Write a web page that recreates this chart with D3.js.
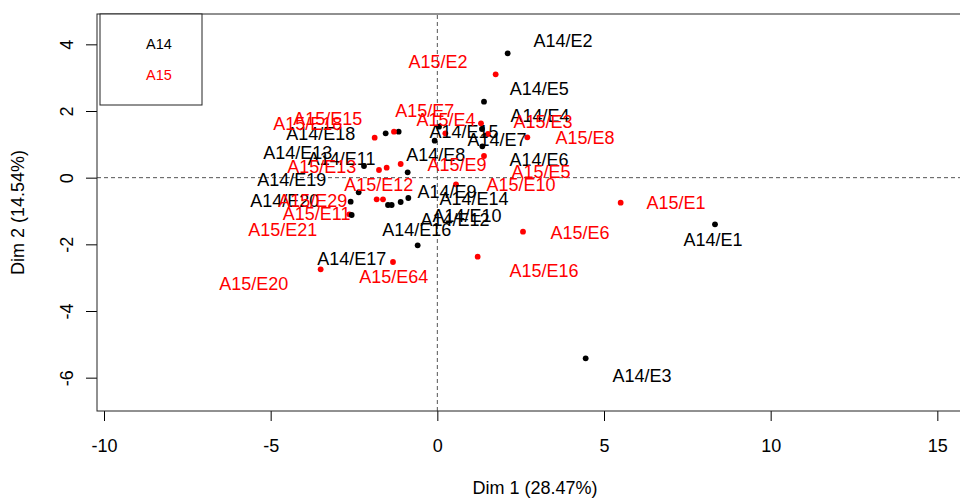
<!DOCTYPE html>
<html>
<head>
<meta charset="utf-8">
<script src="https://cdn.jsdelivr.net/npm/d3@7"></script>
<style>
  body { margin: 0; background: #fff; }
  svg { display: block; font-family: "Liberation Sans", Arial, sans-serif; }
</style>
</head>
<body>
<svg id="chart" width="960" height="498"></svg>
<script>
// individuals of group A14
var a14Names = ['A14/E1','A14/E2','A14/E3','A14/E4','A14/E5','A14/E6','A14/E7','A14/E8','A14/E9','A14/E10',
                'A14/E11','A14/E12','A14/E13','A14/E14','A14/E15','A14/E16','A14/E17','A14/E18','A14/E19','A14/E20']
var a14Dim1 = [8.33, 2.11, 4.45, 1.34, 1.40, 1.35, 0.05, -0.89, -0.87, -1.37,
               -2.20, -1.48, -1.16, -1.10, -0.08, -0.59, -2.57, -1.55, -2.36, -2.60]
var a14Dim2 = [-1.40, 3.73, -5.42, 1.46, 2.28, 0.94, 1.53, 0.16, -0.61, -0.82,
               0.35, -0.82, 1.38, -0.73, 1.11, -2.03, -1.12, 1.33, -0.44, -0.72]
// where the repelled labels ended up (same units as the dims)
var a14LabX = [8.27, 3.77, 6.14, 3.08, 3.06, 3.05, 1.79, -0.05, 0.29, 0.89,
               -2.87, 0.53, -4.19, 1.10, 0.80, -0.62, -2.57, -3.50, -4.37, -4.58]
var a14LabY = [-1.87, 4.10, -5.95, 1.85, 2.66, 0.53, 1.13, 0.68, -0.43, -1.15,
               0.56, -1.27, 0.74, -0.64, 1.37, -1.57, -2.44, 1.31, -0.07, -0.70]

// individuals of group A15
var a15Names = ['A15/E1','A15/E2','A15/E3','A15/E4','A15/E5','A15/E6','A15/E7','A15/E8','A15/E9','A15/E10',
                'A15/E11','A15/E12','A15/E13','A15/E15','A15/E16','A15/E18','A15/E20','A15/E21','A15/E29','A15/E64']
var a15Dim1 = [5.50, 1.75, 1.52, 1.31, 1.40, 2.57, 0.24, 2.70, -1.10, 0.56,
               -2.64, -1.52, -1.75, -1.30, 1.21, -1.88, -3.50, -1.63, -1.82, -1.33]
var a15Dim2 = [-0.75, 3.10, 1.31, 1.63, 0.65, -1.62, 1.33, 1.21, 0.41, -0.20,
               -1.10, 0.30, 0.23, 1.38, -2.37, 1.20, -2.75, -0.65, -0.65, -2.53]
var a15LabX = [7.16, 0.02, 3.17, 0.26, 3.11, 4.28, -0.38, 4.43, 0.59, 2.51,
               -3.62, -1.76, -3.47, -3.29, 3.20, -3.89, -5.51, -4.64, -3.74, -1.31]
var a15LabY = [-0.76, 3.47, 1.67, 1.73, 0.17, -1.66, 2.00, 1.19, 0.38, -0.22,
               -1.09, -0.22, 0.32, 1.76, -2.80, 1.63, -3.17, -1.57, -0.70, -2.98]

var xTicks = [-10, -5, 0, 5, 10, 15]
var yTicks = [-6, -4, -2, 0, 2, 4]
var groups = ['A14', 'A15']
var groupColors = ['#000000', '#ff0000']

var svg = d3.select('#chart')

var x = d3.scaleLinear().domain([-10.21, 16.07]).range([97, 973])
var y = d3.scaleLinear().domain([-7.0, 4.91]).range([411, 14])

// R prints a plain hyphen for negatives
var plain = function (v) { return String(v) }

function rows(names, d1, d2, lx, ly, g) {
  return names.map(function (n, i) {
    return { name: n, d1: d1[i], d2: d2[i], lx: lx[i], ly: ly[i], group: g }
  })
}
var a14 = rows(a14Names, a14Dim1, a14Dim2, a14LabX, a14LabY, 0)
var a15 = rows(a15Names, a15Dim1, a15Dim2, a15LabX, a15LabY, 1)

// dashed axes through the origin
svg.append('line')
   .attr('x1', x.range()[0]).attr('x2', x.range()[1])
   .attr('y1', y(0)).attr('y2', y(0))
   .attr('stroke', '#555').attr('stroke-dasharray', '4,3')
svg.append('line')
   .attr('x1', x(0)).attr('x2', x(0))
   .attr('y1', y.range()[0]).attr('y2', y.range()[1])
   .attr('stroke', '#555').attr('stroke-dasharray', '4,3')

var xAxis = svg.append('g')
  .attr('transform', 'translate(0,' + y.range()[0] + ')')
  .call(d3.axisBottom(x).tickValues(xTicks).tickSize(10).tickFormat(plain))
xAxis.select('.domain').remove()
xAxis.selectAll('text').attr('y', 41).attr('dy', 0)
     .attr('font-size', 18).attr('font-family', null)

var yAxis = svg.append('g')
  .attr('transform', 'translate(' + x.range()[0] + ',0)')
  .call(d3.axisLeft(y).tickValues(yTicks).tickSize(11).tickFormat(plain))
yAxis.select('.domain').remove()
yAxis.selectAll('text')
     .attr('x', null).attr('dy', '0.35em')
     .attr('transform', 'translate(-30,0) rotate(-90)')
     .attr('text-anchor', 'middle')
     .attr('font-size', 18).attr('font-family', null)

// frame
svg.append('rect')
   .attr('x', x.range()[0]).attr('y', y.range()[1])
   .attr('width', x.range()[1] - x.range()[0])
   .attr('height', y.range()[0] - y.range()[1])
   .attr('fill', 'none').attr('stroke', '#222')

svg.append('text')
   .attr('x', (x.range()[0] + x.range()[1]) / 2).attr('y', 494)
   .attr('text-anchor', 'middle').attr('font-size', 18)
   .text('Dim 1 (28.47%)')
svg.append('text')
   .attr('transform', 'translate(18,' + (y.range()[0] + y.range()[1]) / 2 + ') rotate(-90)')
   .attr('dy', '0.35em')
   .attr('text-anchor', 'middle').attr('font-size', 18)
   .text('Dim 2 (14.54%)')

// points, then labels
var all = a15.filter(function (d) { return d.name === 'A15/E11' })
         .concat(a14, a15.filter(function (d) { return d.name !== 'A15/E11' }))

svg.append('g').selectAll('circle')
   .data(all).enter().append('circle')
   .attr('cx', function (d) { return x(d.d1) })
   .attr('cy', function (d) { return y(d.d2) })
   .attr('r', 2.9)
   .attr('fill', function (d) { return groupColors[d.group] })

svg.append('g').selectAll('text')
   .data(a14.concat(a15)).enter().append('text')
   .attr('x', function (d) { return x(d.lx) })
   .attr('y', function (d) { return y(d.ly) })
   .attr('dy', '0.36em')
   .attr('text-anchor', 'middle')
   .attr('font-size', 18)
   .attr('fill', function (d) { return groupColors[d.group] })
   .text(function (d) { return d.name })

// legend
var legend = svg.append('g')
legend.append('rect')
      .attr('x', 100).attr('y', 14).attr('width', 102).attr('height', 91)
      .attr('fill', '#fff').attr('stroke', '#222')
legend.selectAll('text')
      .data(groups).enter().append('text')
      .attr('x', 159)
      .attr('y', function (d, i) { return 44 + i * 31 })
      .attr('dy', '0.36em')
      .attr('text-anchor', 'middle')
      .attr('font-size', 14.5)
      .attr('fill', function (d, i) { return groupColors[i] })
      .text(function (d) { return d })
</script>
</body>
</html>
